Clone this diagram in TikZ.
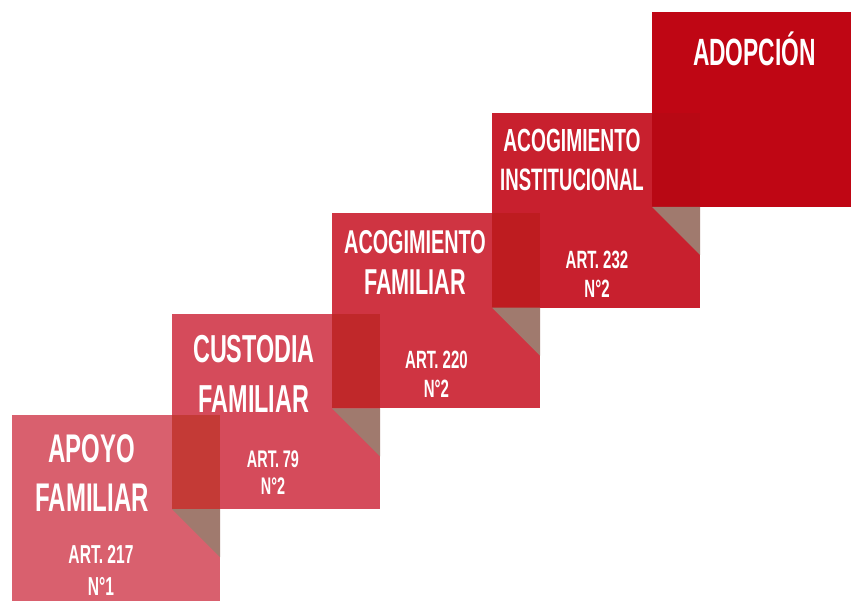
\documentclass[tikz,border=0pt]{standalone}
\usepackage{fontspec}
\newfontfamily\stepfont{Liberation Sans}[FakeStretch=0.6]
\usetikzlibrary{positioning,calc}
\definecolor{apoyoclr}{RGB}{217,96,110}
\definecolor{custclr}{RGB}{213,75,91}
\definecolor{acofamclr}{RGB}{207,52,66}
\definecolor{acoinsclr}{RGB}{200,32,46}
\definecolor{adopclr}{RGB}{191,6,20}
\definecolor{ovaclr}{RGB}{196,58,54}
\definecolor{ovbclr}{RGB}{192,40,42}
\definecolor{ovcclr}{RGB}{190,28,32}
\definecolor{ovdclr}{RGB}{184,8,20}
\definecolor{foldclr}{RGB}{160,122,110}
\tikzset{
stepbox/.style={rectangle, inner sep=0pt, outer sep=0pt, minimum width=208pt, minimum height=195pt},
steptext/.style={text=white, inner sep=0pt, outer sep=0pt, align=center},
}

\begin{document}
\begin{tikzpicture}[x=1pt, y=1pt, node distance=-94.25pt and -48pt]
        \useasboundingbox (0,0) rectangle (851,601);
        \clip (0,0) rectangle (851,601);

        \node[stepbox, fill=apoyoclr, anchor=north west] (sq1) at (12,186) {};
        \node[stepbox, fill=custclr, above right=of sq1] (sq2) {};
        \node[stepbox, fill=acofamclr, above right=of sq2] (sq3) {};
        \node[stepbox, fill=acoinsclr, above right=of sq3] (sq4) {};
        \node[stepbox, fill=adopclr, above right=of sq4] (sq5) {};

        \fill[ovaclr] (sq2.south west) rectangle (sq1.north east);
        \fill[ovbclr] (sq3.south west) rectangle (sq2.north east);
        \fill[ovcclr] (sq4.south west) rectangle (sq3.north east);
        \fill[ovdclr] (sq5.south west) rectangle (sq4.north east);

        \fill[foldclr] (sq2.south west) -- (sq1.east |- sq2.south) -- ++(0,-48) -- cycle;
        \fill[foldclr] (sq3.south west) -- (sq2.east |- sq3.south) -- ++(0,-48) -- cycle;
        \fill[foldclr] (sq4.south west) -- (sq3.east |- sq4.south) -- ++(0,-48) -- cycle;
        \fill[foldclr] (sq5.south west) -- (sq4.east |- sq5.south) -- ++(0,-48) -- cycle;

        \node[steptext, font=\stepfont\bfseries\fontsize{40}{49}\selectfont] (t1) at ($(sq1.north west)+(80,-58.5)$) {APOYO\\FAMILIAR};
        \node[steptext, font=\stepfont\bfseries\fontsize{39}{50}\selectfont] (t2) at ($(sq2.north west)+(82,-60)$) {CUSTODIA\\FAMILIAR};
        \node[steptext, font=\stepfont\bfseries\fontsize{33}{41}\selectfont] (t3) at ($(sq3.north west)+(83,-48.5)$) {ACOGIMIENTO\\{\fontsize{36}{41}\selectfont FAMILIAR}};
        \node[steptext, font=\stepfont\bfseries\fontsize{32}{39.5}\selectfont] (t4) at ($(sq4.north west)+(80,-47)$) {ACOGIMIENTO\\{\fontsize{31}{39.5}\selectfont INSTITUCIONAL}};
        \node[steptext, font=\stepfont\bfseries\fontsize{38}{46}\selectfont, anchor=north] (t5) at ($(sq5.north west)+(102.5,-20)$) {ADOPCIÓN};

        \node[steptext, font=\stepfont\bfseries\fontsize{26}{32}\selectfont] (a1) at ($(sq1.north west)+(89,-155.5)$) {ART. 217\\N°1};
        \node[steptext, font=\stepfont\bfseries\fontsize{24}{27}\selectfont] (a2) at ($(sq2.north west)+(101,-158.5)$) {ART. 79\\N°2};
        \node[steptext, font=\stepfont\bfseries\fontsize{25}{28.5}\selectfont] (a3) at ($(sq3.north west)+(104.5,-161)$) {ART. 220\\N°2};
        \node[steptext, font=\stepfont\bfseries\fontsize{25}{29}\selectfont] (a4) at ($(sq4.north west)+(105,-161.5)$) {ART. 232\\N°2};

    \end{tikzpicture}
\end{document}
